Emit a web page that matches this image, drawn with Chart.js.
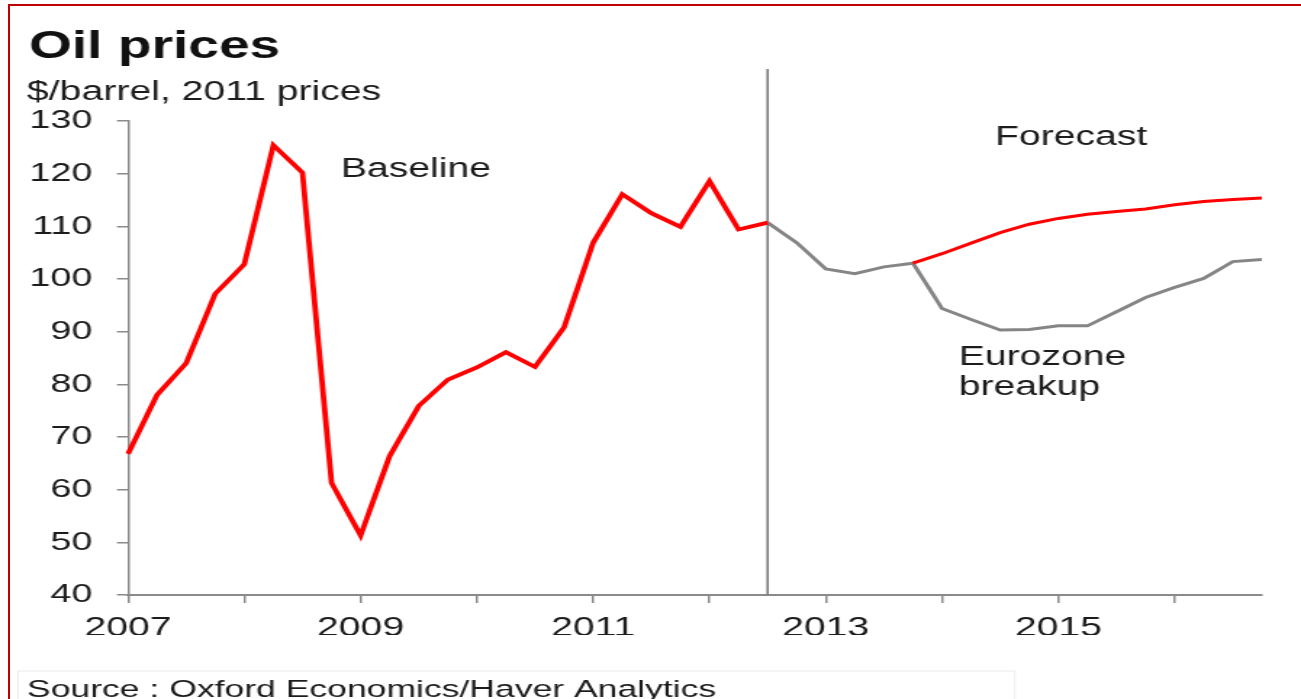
<!DOCTYPE html>
<html>
<head>
<meta charset="utf-8">
<title>Oil prices</title>
<script src="https://cdn.jsdelivr.net/npm/chart.js@4/dist/chart.umd.min.js"></script>
<style>
  html, body { margin: 0; padding: 0; background: #fff; overflow: hidden; }
  #page { position: relative; width: 1301px; height: 699px; overflow: hidden; background: #fff; }
  /* the drawing is laid out narrow and widened, giving the broad lettering of the house style */
  #wide { position: absolute; left: 0; top: 0; width: 897px; height: 699px;
          transform: scaleX(1.4504); transform-origin: 0 0; }
  #wide canvas { display: block; }
  #frame { position: absolute; left: 8px; top: 4px; width: 1300px; height: 720px;
           border-top: 2px solid #c00000; border-left: 2px solid #c00000; box-sizing: border-box;
           pointer-events: none; }
</style>
</head>
<body>
<div id="page">
  <div id="wide"><canvas id="chart" width="897" height="699"></canvas></div>
  <div id="frame"></div>
</div>
<script>
// Quarterly periods on the horizontal axis
const quarters = [
  '2007 Q1','2007 Q2','2007 Q3','2007 Q4','2008 Q1','2008 Q2','2008 Q3','2008 Q4',
  '2009 Q1','2009 Q2','2009 Q3','2009 Q4','2010 Q1','2010 Q2','2010 Q3','2010 Q4',
  '2011 Q1','2011 Q2','2011 Q3','2011 Q4','2012 Q1','2012 Q2','2012 Q3','2012 Q4',
  '2013 Q1','2013 Q2','2013 Q3','2013 Q4','2014 Q1','2014 Q2','2014 Q3','2014 Q4',
  '2015 Q1','2015 Q2','2015 Q3','2015 Q4','2016 Q1','2016 Q2','2016 Q3','2016 Q4'
];

// Outturn, $/barrel in 2011 prices (2007 Q1 - 2012 Q3)
const history = [
  66.8, 78.0, 84.0, 97.2, 102.8, 125.4, 120.2, 61.3,
  51.3, 66.4, 75.9, 80.9, 83.2, 86.1, 83.3, 90.8,
  106.9, 116.1, 112.5, 109.9, 118.6, 109.4, 110.7
];

// Forecast paths (2012 Q4 - 2016 Q4)
const baselineForecast = [
  106.9, 101.9, 101.0, 102.3, 103.0, 104.8, 106.8, 108.8, 110.4,
  111.5, 112.3, 112.8, 113.3, 114.1, 114.7, 115.1, 115.4
];
const eurozoneBreakup = [
  106.9, 101.9, 101.0, 102.3, 103.0, 94.4, 92.3, 90.3, 90.4,
  91.1, 91.1, 93.8, 96.5, 98.4, 100.1, 103.3, 103.7
];

// Axis settings
const yMin = 40, yMax = 130, yStep = 10;
const labelledYears = ['2007', '2009', '2011', '2013', '2015'];
const forecastStart = '2012 Q3';

const FONT = "'Liberation Sans', Arial, Helvetica, sans-serif";
const RED = '#ff0000';
const GREY_LINE = '#858585';
const AXIS = '#8a8a8a';
const TEXT = '#1c1c1c';

// Build the three drawn paths from the arrays above
const nHist = history.length;
const pad = n => new Array(n).fill(null);

const historySeries = history.concat(pad(quarters.length - nHist));

// shared part of the forecast is drawn grey; the baseline turns red where the paths split
const breakupSeries = pad(nHist - 1).concat([history[nHist - 1]], eurozoneBreakup);
const split = baselineForecast.findIndex((v, i) => v !== eurozoneBreakup[i]) - 1;
const baselineSeries = pad(nHist + split).concat(baselineForecast.slice(split));

const decor = {
  id: 'decor',
  beforeDatasetsDraw(chart) {
    const { ctx, chartArea, scales } = chart;
    const x = scales.x.getPixelForValue(quarters.indexOf(forecastStart));
    ctx.save();
    ctx.strokeStyle = '#7a7a7a';
    ctx.lineWidth = 1.6;
    ctx.beginPath();
    ctx.moveTo(x, 69);
    ctx.lineTo(x, chartArea.bottom);
    ctx.stroke();
    ctx.restore();
  },
  afterDraw(chart) {
    const { ctx } = chart;
    ctx.save();
    ctx.textBaseline = 'alphabetic';
    ctx.textAlign = 'left';

    ctx.fillStyle = '#111';
    ctx.font = 'bold 38px ' + FONT;
    ctx.fillText('Oil prices', 20, 58);

    ctx.fillStyle = TEXT;
    ctx.font = '27px ' + FONT;
    ctx.fillText('$/barrel, 2011 prices', 18.6, 100);

    ctx.fillText('Baseline', 235, 177);
    ctx.fillText('Forecast', 686, 145);
    ctx.fillText('Eurozone', 661, 365);
    ctx.fillText('breakup', 661, 395);

    // source note in its light box
    ctx.strokeStyle = '#ececec';
    ctx.lineWidth = 1;
    ctx.strokeRect(12.4, 671, 687.4, 60);
    ctx.font = '24.5px ' + FONT;
    ctx.fillStyle = TEXT;
    ctx.fillText('Source : Oxford Economics/Haver Analytics', 18.6, 697);
    ctx.restore();
  }
};

new Chart(document.getElementById('chart'), {
  type: 'line',
  data: {
    labels: quarters,
    datasets: [
      { label: 'Baseline', data: historySeries, borderColor: RED, borderWidth: 3.8, order: 1 },
      { label: 'Baseline forecast', data: baselineSeries, borderColor: RED, borderWidth: 3, order: 2 },
      { label: 'Eurozone breakup', data: breakupSeries, borderColor: GREY_LINE, borderWidth: 3, order: 3 }
    ]
  },
  options: {
    responsive: false,
    animation: false,
    events: [],
    layout: { padding: { left: 0, right: 27, top: 121, bottom: 64 } },
    plugins: {
      legend: { display: false },
      tooltip: { enabled: false },
      title: { display: false }
    },
    elements: {
      point: { radius: 0, hoverRadius: 0 },
      line: { tension: 0, fill: false, borderJoinStyle: 'miter', borderCapStyle: 'butt', spanGaps: false }
    },
    scales: {
      x: {
        type: 'category',
        offset: false,
        afterFit(scale) { scale.height = 40; },
        border: { display: true, color: AXIS, width: 2 },
        grid: {
          drawOnChartArea: false,
          drawTicks: true,
          tickLength: 8,
          lineWidth: 1.5,
          color: c => (c.index % 4 === 0 ? AXIS : 'rgba(0,0,0,0)')
        },
        ticks: {
          autoSkip: false,
          maxRotation: 0,
          minRotation: 0,
          padding: 9,
          color: TEXT,
          font: { family: FONT, size: 27 },
          callback(value, index) {
            const label = this.getLabelForValue(value);
            const year = label.slice(0, 4);
            return (label.endsWith('Q1') && labelledYears.includes(year)) ? year : '';
          }
        }
      },
      y: {
        min: yMin,
        max: yMax,
        afterFit(scale) { scale.width = 88.25; },
        border: { display: true, color: AXIS, width: 1.5 },
        grid: { drawOnChartArea: false, drawTicks: true, tickLength: 7.6, lineWidth: 1.5, color: AXIS },
        ticks: {
          stepSize: yStep,
          padding: 17,
          color: TEXT,
          font: { family: FONT, size: 26 }
        }
      }
    }
  },
  plugins: [decor]
});
</script>
</body>
</html>
